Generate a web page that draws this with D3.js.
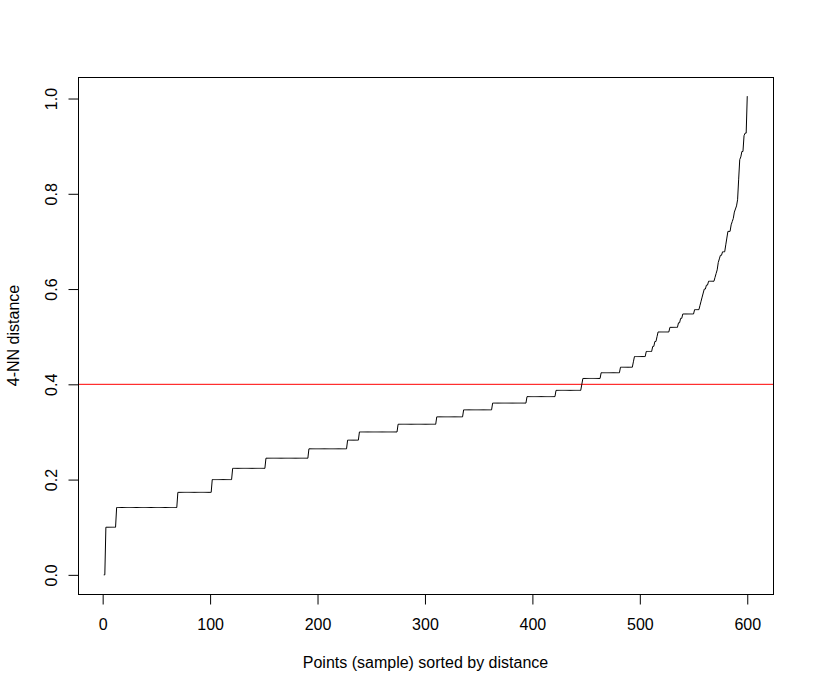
<!DOCTYPE html>
<html>
<head>
<meta charset="utf-8">
<script src="https://cdn.jsdelivr.net/npm/d3@7"></script>
<style>
  html, body { margin: 0; padding: 0; background: #fff; }
  svg { display: block; }
  text { font-family: "Liberation Sans", Arial, Helvetica, sans-serif; font-size: 16px; fill: #000; }
</style>
</head>
<body>
<svg id="chart" width="814" height="693"></svg>
<script>
// Sorted 4-NN distances, stored as runs: distance level and last point index of that run
const levels = [0, 0.1, 0.1414, 0.1732, 0.2, 0.2236, 0.2449, 0.2646, 0.2828, 0.3,
  0.3162, 0.3317, 0.3464, 0.3606, 0.3742, 0.3873, 0.4, 0.4123, 0.4243, 0.4359,
  0.4472, 0.4583, 0.469, 0.4796, 0.4899, 0.5, 0.5099, 0.5196, 0.5292, 0.5385,
  0.5477, 0.5568, 0.5657, 0.5745, 0.5831, 0.5916, 0.6, 0.6083, 0.6164, 0.6245,
  0.6325, 0.6403, 0.6557, 0.6633, 0.6708, 0.6782, 0.6928, 0.7071, 0.7211, 0.7348,
  0.7416, 0.7483, 0.7616, 0.7681, 0.7746, 0.7874, 0.8307, 0.8718, 0.8775, 0.8888,
  0.922, 0.9274, 1.005];
const runEnds = [2, 12, 69, 101, 120, 151, 191, 227, 238, 274,
  310, 335, 362, 394, 421, 445, 446, 463, 481, 493,
  494, 505, 511, 513, 515, 516, 527, 535, 537, 539,
  550, 555, 556, 557, 558, 559, 561, 563, 569, 570,
  571, 572, 573, 574, 576, 579, 580, 581, 584, 585,
  586, 587, 588, 589, 590, 591, 592, 593, 594, 596,
  597, 599, 600];
const xTicks = [0, 100, 200, 300, 400, 500, 600];
const yTicks = [0.0, 0.2, 0.4, 0.6, 0.8, 1.0];
const threshold = 0.4;
const xLabel = "Points (sample) sorted by distance";
const yLabel = "4-NN distance";

// expand runs into the point series
const points = [];
let startIdx = 1;
levels.forEach((v, k) => {
  for (let i = startIdx; i <= runEnds[k]; i++) points.push({ i: i, d: v });
  startIdx = runEnds[k] + 1;
});

const pL = 78, pR = 773, pT = 77, pB = 594;
const svg = d3.select("#chart");
const FONT = "'Liberation Sans', Arial, sans-serif";

function padded(ext) {
  const r = ext[1] - ext[0];
  return [ext[0] - 0.04 * r, ext[1] + 0.04 * r];
}
const x = d3.scaleLinear().domain(padded(d3.extent(points, p => p.i))).range([pL, pR]);
const y = d3.scaleLinear().domain(padded(d3.extent(points, p => p.d))).range([pB, pT]);

// threshold line
svg.append("line")
  .attr("x1", pL).attr("x2", pR)
  .attr("y1", y(threshold)).attr("y2", y(threshold))
  .attr("stroke", "#ff0000").attr("stroke-width", 1);

// data line
svg.append("path")
  .datum(points)
  .attr("fill", "none")
  .attr("stroke", "#000")
  .attr("stroke-width", 1)
  .attr("d", d3.line().x(p => x(p.i)).y(p => y(p.d)));

// x axis
const xAxis = svg.append("g").attr("transform", `translate(0,${pB + 0.5})`)
  .call(d3.axisBottom(x).tickValues(xTicks).tickFormat(d3.format("d")).tickSize(10).tickPadding(14));
xAxis.select(".domain").attr("d", `M${x(xTicks[0])},0H${x(xTicks[xTicks.length - 1])}`);
xAxis.selectAll("text").style("font-size", "16px").style("font-family", FONT);

// y axis
const yAxis = svg.append("g").attr("transform", `translate(${pL + 0.5},0)`)
  .call(d3.axisLeft(y).tickValues(yTicks).tickFormat(d3.format(".1f")).tickSize(10));
yAxis.select(".domain").attr("d", `M0,${y(yTicks[0])}V${y(yTicks[yTicks.length - 1])}`);
yAxis.selectAll(".tick text")
  .attr("x", null).attr("dy", null)
  .attr("text-anchor", "middle")
  .attr("transform", "translate(-22,0) rotate(-90)")
  .style("font-size", "16px").style("font-family", FONT);

// box
svg.append("rect")
  .attr("x", pL + 0.5).attr("y", pT + 0.5)
  .attr("width", pR - pL).attr("height", pB - pT)
  .attr("fill", "none").attr("stroke", "#000").attr("stroke-width", 1);

// axis titles
svg.append("text").attr("x", (pL + pR) / 2).attr("y", 668)
  .attr("text-anchor", "middle").text(xLabel);
svg.append("text")
  .attr("transform", `translate(19,${(pT + pB) / 2}) rotate(-90)`)
  .attr("text-anchor", "middle").text(yLabel);
</script>
</body>
</html>
